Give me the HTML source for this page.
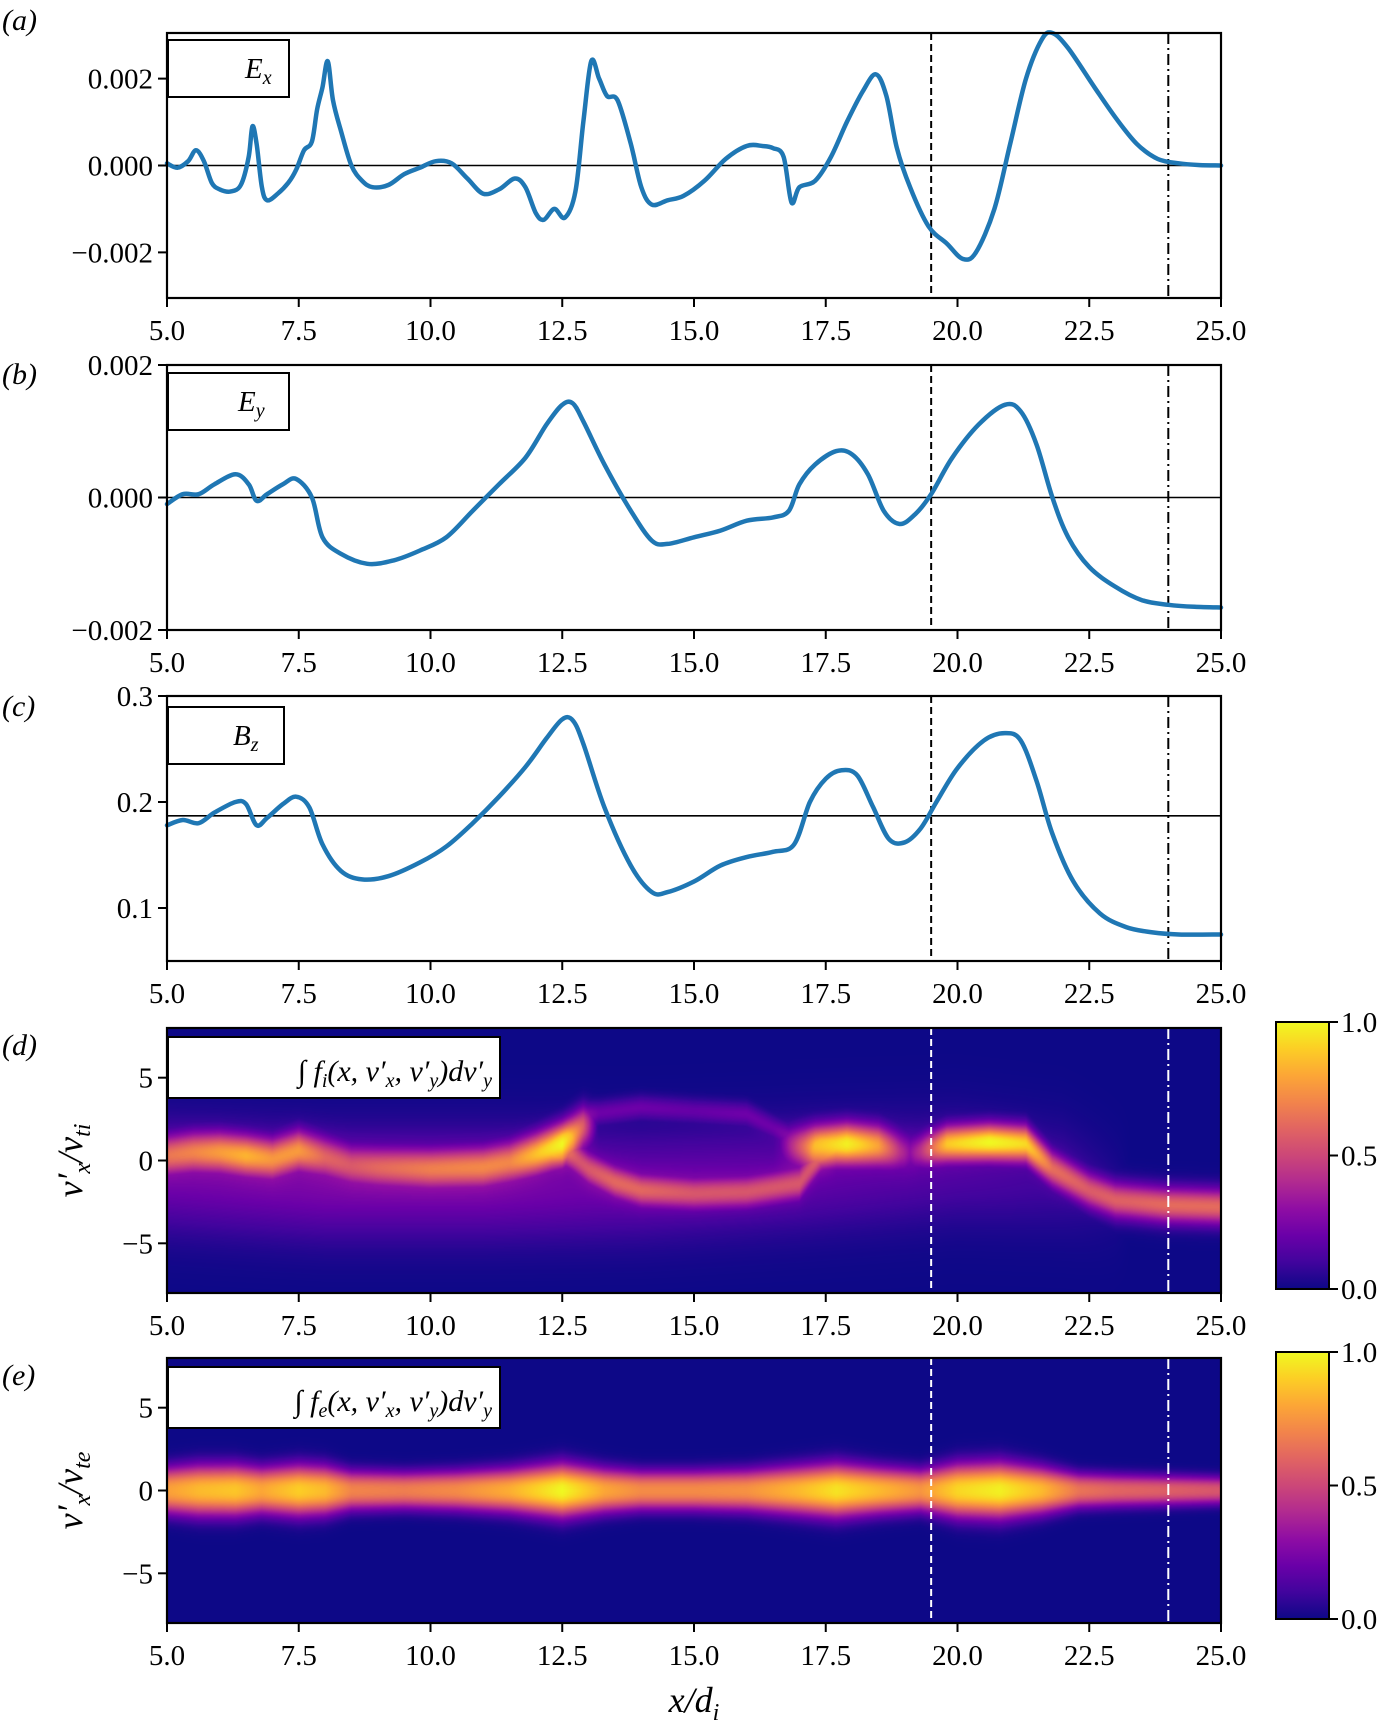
<!DOCTYPE html>
<html><head><meta charset="utf-8"><style>
html,body{margin:0;padding:0;background:#fff;}
svg text{font-family:"Liberation Serif",serif;}
</style></head><body>
<svg id="fig" width="1391" height="1729" xmlns="http://www.w3.org/2000/svg"></svg>
<canvas id="cv" width="1054" height="265" style="display:none"></canvas>
<script>
// ---- data ----
const exX=[5.0,5.2,5.4,5.55,5.7,5.85,6.0,6.2,6.4,6.55,6.62,6.7,6.8,6.9,7.1,7.3,7.45,7.6,7.75,7.85,7.95,8.05,8.15,8.3,8.5,8.7,8.9,9.2,9.5,9.8,10.1,10.4,10.7,11.0,11.3,11.6,11.8,12.0,12.15,12.35,12.55,12.75,12.9,13.05,13.2,13.35,13.55,13.8,14.0,14.2,14.5,14.8,15.2,15.6,16.0,16.3,16.5,16.7,16.85,17.0,17.3,17.6,17.9,18.2,18.45,18.65,18.85,19.1,19.45,19.8,20.1,20.35,20.7,21.0,21.3,21.6,21.8,22.1,22.6,23.0,23.4,23.8,24.2,24.6,25.0];
const exY=[0.05,-0.05,0.1,0.35,0.1,-0.4,-0.55,-0.6,-0.45,0.2,0.9,0.5,-0.5,-0.8,-0.65,-0.4,-0.1,0.35,0.55,1.3,1.8,2.4,1.5,0.8,0.0,-0.35,-0.5,-0.45,-0.2,-0.05,0.1,0.05,-0.3,-0.65,-0.55,-0.3,-0.5,-1.1,-1.25,-1.0,-1.2,-0.6,1.0,2.4,2.0,1.6,1.5,0.5,-0.5,-0.9,-0.8,-0.7,-0.35,0.15,0.45,0.45,0.4,0.2,-0.85,-0.5,-0.35,0.2,1.0,1.7,2.1,1.6,0.4,-0.5,-1.4,-1.8,-2.15,-2.0,-1.0,0.5,2.0,2.9,3.05,2.7,1.8,1.1,0.5,0.15,0.05,0.01,0.0];
const eyX=[5.0,5.3,5.6,5.9,6.3,6.55,6.7,6.9,7.2,7.45,7.75,7.95,8.3,8.8,9.3,9.8,10.3,10.8,11.3,11.8,12.2,12.5,12.7,12.9,13.3,13.8,14.2,14.5,15.0,15.5,16.0,16.5,16.8,17.0,17.3,17.7,18.0,18.3,18.6,18.9,19.2,19.5,19.9,20.4,20.9,21.2,21.5,21.8,22.1,22.5,23.0,23.5,24.0,24.5,25.0];
const eyY=[-0.1,0.05,0.05,0.2,0.35,0.2,-0.05,0.05,0.2,0.28,0.0,-0.6,-0.85,-1.0,-0.95,-0.8,-0.6,-0.2,0.2,0.6,1.1,1.4,1.42,1.15,0.5,-0.2,-0.65,-0.7,-0.6,-0.5,-0.35,-0.3,-0.2,0.2,0.5,0.7,0.65,0.35,-0.2,-0.4,-0.25,0.05,0.6,1.1,1.4,1.3,0.8,0.0,-0.6,-1.05,-1.35,-1.55,-1.62,-1.65,-1.66];
const bzX=[5.0,5.3,5.6,5.9,6.3,6.5,6.7,6.9,7.2,7.45,7.7,7.95,8.3,8.7,9.2,9.8,10.3,10.8,11.3,11.8,12.2,12.5,12.7,12.9,13.3,13.8,14.2,14.5,15.0,15.5,16.0,16.5,16.9,17.2,17.5,17.8,18.1,18.4,18.7,19.0,19.3,19.6,20.0,20.5,20.9,21.2,21.5,21.8,22.2,22.7,23.2,23.7,24.2,25.0];
const bzY=[0.178,0.183,0.18,0.19,0.2,0.198,0.178,0.185,0.198,0.205,0.195,0.16,0.135,0.127,0.13,0.143,0.158,0.18,0.205,0.233,0.26,0.278,0.277,0.255,0.195,0.14,0.115,0.115,0.125,0.14,0.148,0.153,0.16,0.2,0.222,0.23,0.225,0.195,0.165,0.162,0.175,0.2,0.232,0.258,0.265,0.258,0.22,0.17,0.125,0.095,0.082,0.077,0.075,0.075];
const bzRef=0.187;
const xTicks=[5.0,7.5,10.0,12.5,15.0,17.5,20.0,22.5,25.0];
const exTicks=[-0.002,0.0,0.002];
const eyTicks=[-0.002,0.0,0.002];
const bzTicks=[0.1,0.2,0.3];
const vTicks=[-5,0,5];
const cbTicks=[0.0,0.5,1.0];
const dashX=19.5, dashDotX=24.0;
// ion ridge branches: x, v, intensity
const ionB1X=[5,5.5,6,6.5,7,7.5,8,8.5,9,10,11,11.5,12,12.5,12.9];
const ionB1V=[0.3,0.5,0.5,0.3,0.1,0.6,0.2,-0.3,-0.4,-0.5,-0.4,-0.1,0.4,1.0,2.0];
const ionB1I=[0.6,0.65,0.72,0.78,0.7,0.72,0.55,0.5,0.55,0.62,0.65,0.65,0.82,1.0,0.55];
const ionB2X=[12.6,13,13.5,14,15,16,17,17.4];
const ionB2V=[0.5,-0.5,-1.3,-1.8,-2.0,-1.9,-1.4,0.2];
const ionB2I=[0.45,0.5,0.55,0.55,0.5,0.5,0.5,0.4];
const ionB3X=[16.8,17.3,17.9,18.5,19.0];
const ionB3V=[0.8,0.9,1.0,0.9,0.5];
const ionB3I=[0.3,0.8,0.97,0.75,0.3];
const ionB4X=[19.2,19.8,20.6,21.3,21.8,22.5,23,24,25];
const ionB4V=[0.5,1.0,1.1,1.0,-0.5,-1.8,-2.4,-2.7,-2.8];
const ionB4I=[0.3,0.85,1.0,0.9,0.6,0.55,0.58,0.62,0.62];
const ionB5X=[13,14,15,16,16.8];
const ionB5V=[2.8,3.2,3.0,2.8,1.5];
const ionB5I=[0.2,0.2,0.18,0.2,0.18];
const ionHazeX=[5,8,11,14,17,20,22,23];
const ionHazeV=[-1,-1.5,-1.5,-1.5,-1,-0.5,-1,-2];
const ionHazeI=[0.22,0.24,0.24,0.2,0.18,0.14,0.1,0.03];
// electron band
const eleX=[5,5.6,6.3,6.8,7.5,8.0,8.5,9.5,10.5,11.5,12.5,13.3,14,15,16,17,17.7,18.5,19.3,20,20.8,21.6,22.3,23,24,25];
const eleI=[0.78,0.85,0.88,0.8,0.9,0.85,0.7,0.68,0.72,0.82,1.0,0.8,0.72,0.72,0.74,0.85,0.95,0.85,0.75,0.92,0.98,0.85,0.65,0.6,0.58,0.55];
const eleS=[1.0,1.1,1.1,1.0,1.1,1.05,0.85,0.8,0.85,0.95,1.15,0.95,0.85,0.85,0.9,1.05,1.15,1.0,0.9,1.15,1.2,1.0,0.75,0.7,0.65,0.6];

// ---- layout ----
const NS="http://www.w3.org/2000/svg";
const svg=document.getElementById('fig');
const L=167,R=1221,PH=265;
const tops=[33,365,696,1028,1358];
const X=x=>L+(x-5)/20*(R-L);
function mk(tag,attrs,parent){const e=document.createElementNS(NS,tag);for(const k in attrs)e.setAttribute(k,attrs[k]);(parent||svg).appendChild(e);return e;}
function txt(s,x,y,size,anchor,parent,style){const t=mk('text',{x:x,y:y,'font-size':size,'text-anchor':anchor||'middle'},parent);if(style)t.setAttribute('font-style',style);t.textContent=s;return t;}
function interp(xs,ys,x){if(x<=xs[0])return ys[0];if(x>=xs[xs.length-1])return ys[ys.length-1];for(let i=1;i<xs.length;i++){if(x<=xs[i]){const t=(x-xs[i-1])/(xs[i]-xs[i-1]);return ys[i-1]+(ys[i]-ys[i-1])*t;}}}
const plasma=[[13,8,135],[65,4,157],[106,0,168],[143,13,164],[177,42,144],[204,71,120],[225,100,98],[242,132,75],[252,166,54],[252,206,37],[240,249,33]];
function cmap(v){v=Math.max(0,Math.min(1,v))*10;const i=Math.min(9,Math.floor(v)),t=v-i;const a=plasma[i],b=plasma[i+1];return [a[0]+(b[0]-a[0])*t,a[1]+(b[1]-a[1])*t,a[2]+(b[2]-a[2])*t];}

function xAxis(top,name){
  const g=mk('g',{});
  
  
  xTicks.forEach(t=>{mk('line',{x1:X(t),x2:X(t),y1:top+PH,y2:top+PH+9,stroke:'#000','stroke-width':2},g);txt(t.toFixed(1),X(t),top+PH+42,29,'middle',g);});
}
function yAxis(top,ticks,Y,fmt,name){
  const g=mk('g',{});
  
  
  ticks.forEach(t=>{const y=Y(t);mk('line',{x1:L-9,x2:L,y1:y,y2:y,stroke:'#000','stroke-width':2},g);txt(fmt(t),L-14,y+10,29,'end',g);});
}
function frame(top,name){const r=mk('rect',{x:L,y:top,width:R-L,height:PH,fill:'none',stroke:'#000','stroke-width':2.2});}
function vlines(top,color,name){
  const a=mk('line',{x1:X(dashX),x2:X(dashX),y1:top,y2:top+PH,stroke:color,'stroke-width':2,'stroke-dasharray':'7,4'});
  
  const b=mk('line',{x1:X(dashDotX),x2:X(dashDotX),y1:top,y2:top+PH,stroke:color,'stroke-width':2,'stroke-dasharray':'11,4,2,4'});
  
}
function panelLabel(s,y,name){const t=txt('('+s+')',2,y,30,'start',null,'italic');}
function legendBox(x,y,w,h,name){const g=mk('g',{});mk('rect',{x:x,y:y,width:w,height:h,fill:'#fff',stroke:'#000','stroke-width':2},g);return g;}
function lineSeries(top,xs,ys,Y,name){
  const P=xs.map((x,i)=>[X(x),Y(ys[i])]);
  let d='M'+P[0][0].toFixed(1)+','+P[0][1].toFixed(1);
  for(let i=0;i<P.length-1;i++){const p0=P[Math.max(0,i-1)],p1=P[i],p2=P[i+1],p3=P[Math.min(P.length-1,i+2)];const k=1/6;
    d+='C'+(p1[0]+(p2[0]-p0[0])*k).toFixed(1)+','+(p1[1]+(p2[1]-p0[1])*k).toFixed(1)+' '+(p2[0]-(p3[0]-p1[0])*k).toFixed(1)+','+(p2[1]-(p3[1]-p1[1])*k).toFixed(1)+' '+p2[0].toFixed(1)+','+p2[1].toFixed(1);}
  const p=mk('path',{d:d,fill:'none',stroke:'#1f77b4','stroke-width':4.5,'stroke-linejoin':'round','stroke-linecap':'round'});
  
}
function hline(Y,v,top,name){const l=mk('line',{x1:L,x2:R,y1:Y(v),y2:Y(v),stroke:'#000','stroke-width':1.6});}

// Panel a
{const top=tops[0];const Y=v=>top+PH/2-(v/0.00305)*(PH/2);
 hline(Y,0,top,'ex-zero-line');vlines(top,'#000','ex');
 lineSeries(top,exX,exY.map(v=>v*1e-3),Y,'ex-series');
 frame(top,'ex');xAxis(top,'ex');yAxis(top,exTicks,Y,t=>t===0?'0.000':(t<0?'\u2212':'')+Math.abs(t).toFixed(3),'ex');
 const g=legendBox(168,40,121,57,'ex-legend');const t=txt('E',245,78,29,'start',g,'italic');const s=mk('tspan',{'font-size':20,dy:6},t);s.textContent='x';
 panelLabel('a',30,'panel-label-a');}
// Panel b
{const top=tops[1];const Y=v=>top+PH/2-(v/0.002)*(PH/2);
 hline(Y,0,top,'ey-zero-line');vlines(top,'#000','ey');
 lineSeries(top,eyX,eyY.map(v=>v*1e-3),Y,'ey-series');
 frame(top,'ey');xAxis(top,'ey');yAxis(top,eyTicks,Y,t=>t===0?'0.000':(t<0?'\u2212':'')+Math.abs(t).toFixed(3),'ey');
 const g=legendBox(168,373,121,57,'ey-legend');const t=txt('E',238,411,29,'start',g,'italic');const s=mk('tspan',{'font-size':20,dy:6},t);s.textContent='y';
 panelLabel('b',384,'panel-label-b');}
// Panel c
{const top=tops[2];const Y=v=>top+PH-(v-0.05)/0.25*PH;
 hline(Y,bzRef,top,'bz-reference-line');vlines(top,'#000','bz');
 lineSeries(top,bzX,bzY,Y,'bz-series');
 frame(top,'bz');xAxis(top,'bz');yAxis(top,bzTicks,Y,t=>t.toFixed(1),'bz');
 const g=legendBox(168,707,116,57,'bz-legend');const t=txt('B',233,745,29,'start',g,'italic');const s=mk('tspan',{'font-size':20,dy:6},t);s.textContent='z';
 panelLabel('c',716,'panel-label-c');}

// heatmaps
function heat(fieldFn){
  const cv=document.getElementById('cv');const ctx=cv.getContext('2d');const W=cv.width,H=cv.height;
  const img=ctx.createImageData(W,H);
  for(let i=0;i<W;i++){const x=5+(i+0.5)/W*20;const col=fieldFn(x);
    for(let j=0;j<H;j++){const v=8-(j+0.5)/H*16;const c=cmap(col(v));const k=(j*W+i)*4;img.data[k]=c[0];img.data[k+1]=c[1];img.data[k+2]=c[2];img.data[k+3]=255;}}
  ctx.putImageData(img,0,0);return cv.toDataURL();
}
function branch(xs,vs,is,sig,x){if(x<xs[0]-0.3||x>xs[xs.length-1]+0.3)return null;
  let fade=1;if(x<xs[0])fade=1-(xs[0]-x)/0.3;if(x>xs[xs.length-1])fade=1-(x-xs[xs.length-1])/0.3;
  return {v:interp(xs,vs,x),I:interp(xs,is,x)*fade,s:sig};}
function ionField(x){
  const bs=[branch(ionB1X,ionB1V,ionB1I,0.85,x),branch(ionB2X,ionB2V,ionB2I,0.7,x),branch(ionB3X,ionB3V,ionB3I,0.85,x),branch(ionB4X,ionB4V,ionB4I,0.75,x),branch(ionB5X,ionB5V,ionB5I,0.5,x),branch(ionHazeX,ionHazeV,ionHazeI,2.2,x)].filter(b=>b);
  return v=>{let m=0,s=0;bs.forEach(b=>{const g=b.I*Math.exp(-0.5*((v-b.v)/b.s)**2);m=Math.max(m,g);s+=g;});return Math.min(1,0.7*m+0.3*Math.min(1,s));};
}
function eleField(x){const I=interp(eleX,eleI,x),s=interp(eleX,eleS,x);return v=>I*Math.exp(-0.5*Math.pow(Math.abs(v)/s,2.4));}

function heatPanel(top,field,name,sub,label){
  const url=heat(field);
  const im=mk('image',{x:L,y:top,width:R-L,height:PH,preserveAspectRatio:'none'});
  im.setAttribute('href',url);
  vlines(top,'#fff',name);frame(top,name);xAxis(top,name);
  const Y=v=>top+PH/2-v/8*(PH/2);
  yAxis(top,vTicks,Y,t=>t<0?'\u2212'+Math.abs(t):String(t),name);
  const g=legendBox(168,top+9,332,61,name+'-legend');
  const t=txt('',492,top+53,30,'end',g,'italic');
  t.innerHTML='\u222B f<tspan font-size="20" dy="6">'+sub+'</tspan><tspan dy="-6">(x, v\u2032</tspan><tspan font-size="20" dy="6">x</tspan><tspan dy="-6">, v\u2032</tspan><tspan font-size="20" dy="6">y</tspan><tspan dy="-6">)dv\u2032</tspan><tspan font-size="20" dy="6">y</tspan>';
  const yl=txt('',0,0,36,'middle',null,'italic');
  yl.setAttribute('transform','translate(82,'+(top+PH/2)+') rotate(-90)');
  yl.innerHTML='v\u2032<tspan font-size="24" dy="8">x</tspan><tspan dy="-8">/v</tspan><tspan font-size="24" dy="8">'+label+'</tspan>';
  
  const cbT=top-6,cbH=PH+2,cx=1276,cw=53;
  const cg=mk('g',{});
  const gid='grad'+name;const lg=mk('linearGradient',{id:gid,x1:0,y1:1,x2:0,y2:0},mk('defs',{},cg));
  for(let k=0;k<=10;k++){const c=plasma[k];mk('stop',{offset:k/10,'stop-color':'rgb('+c.join(',')+')'},lg);}
  mk('rect',{x:cx,y:cbT,width:cw,height:cbH,fill:'url(#'+gid+')',stroke:'#000','stroke-width':2},cg);
  cbTicks.forEach(t=>{const y=cbT+cbH-t*cbH;mk('line',{x1:cx+cw,x2:cx+cw+9,y1:y,y2:y,stroke:'#000','stroke-width':2},cg);txt(t.toFixed(1),cx+cw+12,y+10,29,'start',cg);});
}
heatPanel(tops[3],ionField,'ion-distribution','i','ti');
panelLabel('d',1055,'panel-label-d');
heatPanel(tops[4],eleField,'electron-distribution','e','te');
panelLabel('e',1385,'panel-label-e');
{const t=txt('',L+(R-L)/2,1712,36,'middle',null,'italic');t.innerHTML='x/d<tspan font-size="24" dy="8">i</tspan>';}
</script>
</body></html>
